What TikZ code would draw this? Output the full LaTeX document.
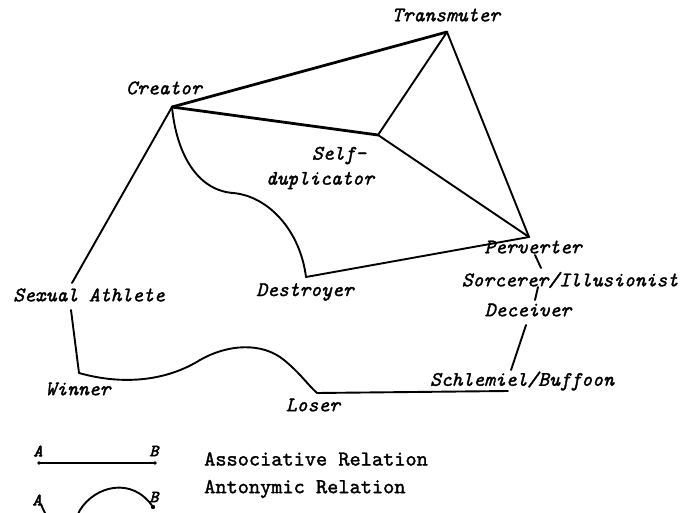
\documentclass[tikz,border=0pt]{standalone}
\usepackage{fontspec}
\newfontfamily\labfont{lmmono10-regular.otf}[ItalicFont=lmmono10-italic.otf, FakeBold=1.6]
\newfontfamily\abfont{lmmono10-italic.otf}[FakeBold=3]
\begin{document}
\begin{tikzpicture}[x=1pt,y=-1pt,
  lbl/.style={font=\labfont\itshape\fontsize{20.6}{25}\selectfont, inner sep=0pt, anchor=center},
  rel/.style={line width=1.9pt, line cap=round, line join=round},
  thickrel/.style={rel, line width=2.8pt},
  legtext/.style={font=\labfont\fontsize{21.3}{22}\selectfont, anchor=west, inner sep=0pt},
  abtext/.style={font=\abfont\fontsize{17}{17}\selectfont, inner sep=0pt}]
\useasboundingbox (0,0) rectangle (690,513);
\clip (0,0) rectangle (690,513);
\fill[white] (0,0) rectangle (690,513);

% labels
\node[lbl] (Ltr) at (446,15) {Transmuter};
\node[lbl] (Lcr) at (164,88) {Creator};
\node[lbl, align=right] (Lsd) at (320,168) {Self-\hspace*{8pt}\\duplicator};
\node[lbl] (Lsa) at (89,295) {Sexual Athlete};
\node[lbl] (Lde) at (305,292) {Destroyer};
\node[lbl] (Lpv) at (533,247) {Perverter};
\node[lbl] (Lso) at (570,280) {Sorcerer/Illusionist};
\node[lbl] (Ldc) at (528,310) {Deceiver};
\node[lbl] (Lsc) at (522,381) {Schlemiel/Buffoon};
\node[lbl] (Lwi) at (78,389) {Winner};
\node[lbl] (Llo) at (313,405) {Loser};

% connection points
\coordinate (tr) at (447,32);
\coordinate (cr) at (172,107);
\coordinate (sd) at (378,135);
\coordinate (pv) at (529,237);
\coordinate (de) at (306,277);
\coordinate (sat) at (72,283);
\coordinate (sab) at (71,310);
\coordinate (wi) at (79,373);
\coordinate (lo) at (317,393);
\coordinate (sch) at (508,391);
\coordinate (dcb) at (511,370);
\coordinate (dct) at (526,325);
\coordinate (ps1) at (535,255);
\coordinate (ps2) at (541,268);
\coordinate (sd1) at (538,287);
\coordinate (sd2) at (535,300);

% connectors
\draw[thickrel] (cr) -- (tr);
\draw[thickrel] (cr) -- (sd);
\draw[rel] (sd) -- (tr);
\draw[rel] (tr) -- (pv);
\draw[rel] (sd) -- (pv);
\draw[rel] (pv) -- (de);
\draw[rel] (cr) .. controls (176,150) and (195,190) .. (233,193)
                .. controls (268,196) and (300,230) .. (de);
\draw[rel] (cr) -- (sat);
\draw[rel] (sab) -- (wi);
\draw[rel] (wi) .. controls (125,386) and (168,380) .. (200,360)
                .. controls (228,344) and (262,342) .. (284,360)
                .. controls (300,373) and (308,385) .. (lo);
\draw[rel] (lo) -- (sch);
\draw[rel] (dcb) -- (dct);
\draw[rel] (ps1) -- (ps2);
\draw[rel] (sd1) -- (sd2);

% legend
\node[abtext] (A1) at (38,451) {A};
\node[abtext] (B1) at (154,451) {B};
\coordinate (la1) at (39,463);
\coordinate (lb1) at (155,463);
\draw[rel] (la1) -- (lb1);
\fill (la1) circle (1.8pt);
\fill (lb1) circle (1.8pt);
\node[legtext] (T1) at (204,459) {Associative Relation};

\node[abtext] (A2) at (37,500) {A};
\node[abtext] (B2) at (154,497) {B};
\coordinate (la2) at (41,504);
\coordinate (lb2) at (153,507);
\draw[rel] (la2) .. controls (50,530) and (70,534) .. (80,510)
                 .. controls (95,486) and (132,476) .. (lb2);
\fill (lb2) circle (2.2pt);
\node[legtext] (T2) at (204,489) {Antonymic Relation};
\end{tikzpicture}
\end{document}
